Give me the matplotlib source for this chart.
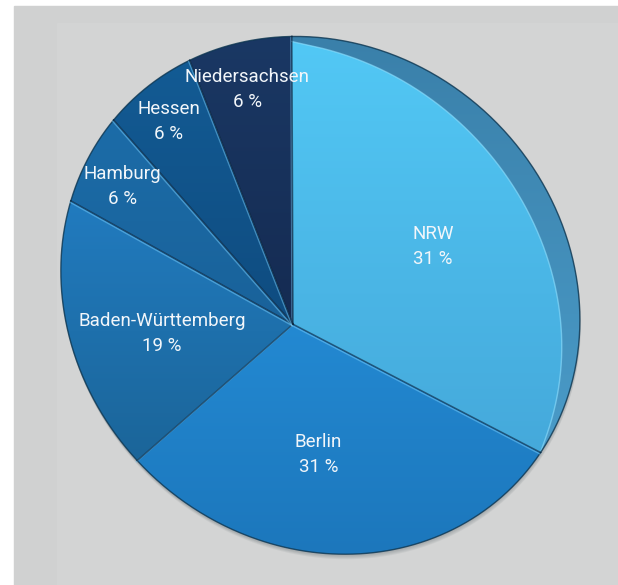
import numpy as np
import matplotlib
matplotlib.use('Agg')
import matplotlib.pyplot as plt
from matplotlib.patches import Polygon, Rectangle
from matplotlib.colors import LinearSegmentedColormap

plt.rcParams['font.family'] = ['Roboto', 'DejaVu Sans']

# data, clockwise from 12 o'clock
labels = ['NRW', 'Berlin', 'Baden-Württemberg', 'Hamburg', 'Hessen', 'Niedersachsen']
shares = [31, 31, 19, 6, 6, 6]

# gradient colours (top, bottom) for each slice
col_top = ['#52c8f5', '#2389d2', '#217bbf', '#1c6ca8', '#135b94', '#1a3864']
col_bot = ['#45a9db', '#1c77bc', '#1b6599', '#19629a', '#0f4c80', '#152b52']
rim_top, rim_bot = '#3a80aa', '#4a9bc8'

# where the slice edges of the tilted pie sit in the picture (pixels)
apex_px = (293, 321)
edge_px = [(293, 36), (540, 454), (138, 461), (70, 202), (113, 119), (190, 62)]
label_dist = [0.6, 0.545, 0.56, 0.83, 0.86, 0.85]

W, H = 618, 585
fig = plt.figure(figsize=(W / 100, H / 100), dpi=100)
ax = fig.add_axes([0, 0, 1, 1])
fig.patch.set_facecolor('white')

frac = np.array(shares, float) / sum(shares)
bounds = 90 - 360 * np.concatenate([[0], np.cumsum(frac)])   # degrees


def fit_homography(src, dst):
    dst = (np.asarray(dst, float) - 300) / 300
    rows = []
    for (u, v), (x, y) in zip(src, dst):
        rows.append([u, v, 1, 0, 0, 0, -x * u, -x * v, -x])
        rows.append([0, 0, 0, u, v, 1, -y * u, -y * v, -y])
    _, _, vt = np.linalg.svd(np.array(rows))
    Hn = vt[-1].reshape(3, 3)
    Tinv = np.array([[300, 0, 300], [0, 300, 300], [0, 0, 1.0]])
    return Tinv @ Hn


src = [(0, 0)] + [(np.cos(np.radians(a)), np.sin(np.radians(a))) for a in bounds[:-1]]
Hm = fit_homography(src, [apex_px] + edge_px)


def project(u, v):
    u = np.atleast_1d(u); v = np.atleast_1d(v)
    p = Hm @ np.vstack([u, v, np.ones_like(u)])
    return np.c_[p[0] / p[2], p[1] / p[2]]


def wedge(a0, a1, rfunc=None, n=200):
    th = np.linspace(a0, a1, n)
    r = np.ones_like(th) if rfunc is None else rfunc(th)
    rim = project(r * np.cos(np.radians(th)), r * np.sin(np.radians(th)))
    return np.vstack([project(0, 0), rim]), rim


def grad_fill(pts, c0, c1, z):
    poly = Polygon(pts, closed=True, facecolor='none', edgecolor='none')
    ax.add_patch(poly)
    cmap = LinearSegmentedColormap.from_list('g', [c0, c1])
    g = np.linspace(0, 1, 256)[:, None]
    im = ax.imshow(g, cmap=cmap, aspect='auto', interpolation='bilinear', zorder=z,
                   extent=(pts[:, 0].min(), pts[:, 0].max(), pts[:, 1].max(), pts[:, 1].min()))
    im.set_clip_path(poly)


# background panels
ax.add_patch(Rectangle((14, 6), W - 14, H - 6, color='#d0d1d1', zorder=0))
ax.add_patch(Rectangle((57, 23), W - 57, H - 23, color='#d3d4d4', zorder=0))

# soft shadow under the pie
full, full_rim = wedge(90, -270, n=400)
for dx, dy in [(1, 5), (1, 4), (0.5, 3), (0, 2)]:
    ax.add_patch(Polygon(full_rim + [dx, dy], closed=True, facecolor='#1d2b36',
                         alpha=0.06, edgecolor='none', zorder=1))

# slices
for i in range(len(shares)):
    pts, rim = wedge(bounds[i], bounds[i + 1])
    if i == 0:
        # raised slice: side wall + top face
        grad_fill(pts, rim_top, rim_bot, 2)
        def face_r(th, a0=bounds[0], a1=bounds[1]):
            s = (a0 - th) / (a0 - a1)
            return 1 - (0.015 * (1 - s) + 0.072 * np.sin(np.pi * s) ** 0.8)
        fpts, frim = wedge(bounds[0], bounds[1], face_r)
        grad_fill(fpts, col_top[0], col_bot[0], 3)
        ax.plot(frim[:, 0], frim[:, 1], color='#8fe0ff', lw=1.0, alpha=0.6, zorder=4)
    else:
        grad_fill(pts, col_top[i], col_bot[i], 2)
    ax.plot(rim[:, 0], rim[:, 1], color='#0c3550', lw=1.0, alpha=0.8, zorder=5)

# slice borders
c = project(0, 0)[0]
for a in bounds[:-1]:
    e = project(np.cos(np.radians(a)), np.sin(np.radians(a)))[0]
    ax.plot([c[0] - 1, e[0] - 1], [c[1] + 1.3, e[1] + 1.3], color='#7fd3ff', lw=1.0, alpha=0.45, zorder=5)
    ax.plot([c[0], e[0]], [c[1], e[1]], color='#08243d', lw=1.1, alpha=0.6, zorder=5)

# labels
mids = (bounds[:-1] + bounds[1:]) / 2
for lab, s, m, d in zip(labels, shares, mids, label_dist):
    p = project(d * np.cos(np.radians(m)), d * np.sin(np.radians(m)))[0]
    ax.text(p[0], p[1], f'{lab}\n{s} %', ha='center', va='center', ma='center',
            color='#f2f6fa', fontsize=13.5, linespacing=1.5, zorder=6)

ax.set_xlim(0, W)
ax.set_ylim(H, 0)
ax.axis('off')
fig.savefig('out.png', dpi=100, facecolor='white')
